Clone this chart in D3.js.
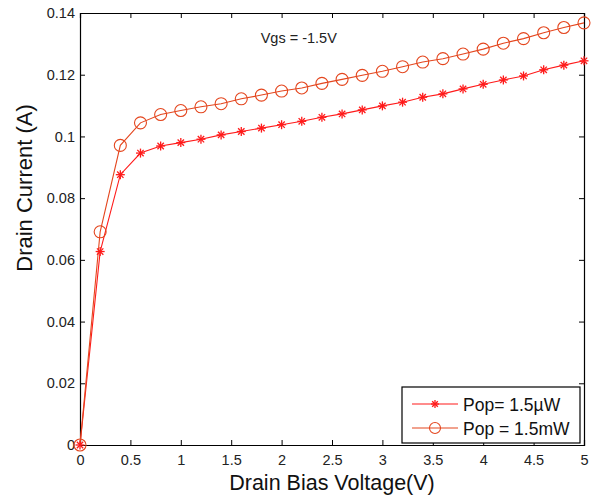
<!DOCTYPE html>
<html>
<head>
<meta charset="utf-8">
<script src="https://cdn.jsdelivr.net/npm/d3@7"></script>
<style>
  body { margin: 0; background: #fff; }
  svg { display: block; font-family: Arial, "Liberation Sans", sans-serif; }
</style>
</head>
<body>
<div id="chart"></div>
<script>
// Data
const voltage = [0, 0.2, 0.4, 0.6, 0.8, 1.0, 1.2, 1.4, 1.6, 1.8, 2.0, 2.2, 2.4, 2.6, 2.8,
                 3.0, 3.2, 3.4, 3.6, 3.8, 4.0, 4.2, 4.4, 4.6, 4.8, 5.0];
const currentMicroW = [0, 0.0627, 0.0876, 0.0946, 0.0969, 0.0980, 0.0991, 0.1005, 0.1016, 0.1027,
                       0.1038, 0.1049, 0.1062, 0.1073, 0.1086, 0.1099, 0.1111, 0.1127, 0.1138,
                       0.1154, 0.1169, 0.1183, 0.1196, 0.1216, 0.1231, 0.1245];
const currentMilliW = [0, 0.0691, 0.0971, 0.1044, 0.1071, 0.1084, 0.1096, 0.1106, 0.1122, 0.1134,
                       0.1147, 0.1157, 0.1172, 0.1185, 0.1198, 0.1211, 0.1226, 0.1241, 0.1252,
                       0.1267, 0.1283, 0.1302, 0.1317, 0.1336, 0.1353, 0.1368];
const seriesNames = ["Pop= 1.5\u00b5W", "Pop = 1.5mW"];
const xTicks = [0, 0.5, 1, 1.5, 2, 2.5, 3, 3.5, 4, 4.5, 5];
const yTicks = [0, 0.02, 0.04, 0.06, 0.08, 0.1, 0.12, 0.14];

const W = 593, H = 497;
const margin = {top: 13, right: 9, bottom: 52, left: 80};
const w = W - margin.left - margin.right;
const h = H - margin.top - margin.bottom;

const starColor = "#ff1a1a";
const circColor = "#e4461e";

const svg = d3.select("#chart").append("svg")
  .attr("width", W).attr("height", H);

const g = svg.append("g")
  .attr("transform", `translate(${margin.left},${margin.top})`);

const x = d3.scaleLinear().domain([0, 5]).range([0, w]);
const y = d3.scaleLinear().domain([0, 0.14]).range([h, 0]);

// Axes (MATLAB-style inward ticks, mirrored on top/right)
const fmt = d => d === 0 ? "0" : String(+d.toFixed(2));
g.append("g").attr("transform", `translate(0,${h})`)
  .call(d3.axisBottom(x).tickValues(xTicks).tickSize(-5).tickPadding(10).tickFormat(fmt));
g.append("g")
  .call(d3.axisLeft(y).tickValues(yTicks).tickSize(-5).tickPadding(5).tickFormat(fmt));
g.append("g")
  .call(d3.axisTop(x).tickValues(xTicks).tickSize(-5).tickFormat(""));
g.append("g").attr("transform", `translate(${w},0)`)
  .call(d3.axisRight(y).tickValues(yTicks).tickSize(-5).tickFormat(""));

g.selectAll(".domain").attr("stroke", "#000").attr("stroke-width", 1.2);
g.selectAll(".tick line").attr("stroke", "#000");
g.selectAll(".tick text").attr("font-size", "14.5px").attr("fill", "#222")
  .attr("font-family", "Arial, 'Liberation Sans', sans-serif");

// Lines
const pts = arr => voltage.map((v, i) => [v, arr[i]]);
const line = d3.line().x(d => x(d[0])).y(d => y(d[1]));

g.append("path").datum(pts(currentMicroW))
  .attr("fill", "none").attr("stroke", starColor).attr("stroke-width", 1.1).attr("d", line);
g.append("path").datum(pts(currentMilliW))
  .attr("fill", "none").attr("stroke", circColor).attr("stroke-width", 1.1).attr("d", line);

// Markers
function star(sel, cx, cy, r, color) {
  const s = sel.append("g").attr("transform", `translate(${cx},${cy})`)
    .attr("stroke", color).attr("stroke-width", 1.3);
  [0, 45, 90, 135].forEach(a => {
    const rad = a * Math.PI / 180;
    s.append("line")
      .attr("x1", -r * Math.cos(rad)).attr("y1", -r * Math.sin(rad))
      .attr("x2", r * Math.cos(rad)).attr("y2", r * Math.sin(rad));
  });
}
function circ(sel, cx, cy, r, color) {
  sel.append("circle").attr("cx", cx).attr("cy", cy).attr("r", r)
    .attr("fill", "none").attr("stroke", color).attr("stroke-width", 1.1);
}

pts(currentMicroW).forEach(d => star(g, x(d[0]), y(d[1]), 4.5, starColor));
pts(currentMilliW).forEach(d => circ(g, x(d[0]), y(d[1]), 6, circColor));

// Annotation
g.append("text")
  .attr("x", x(2.17)).attr("y", 30)
  .attr("text-anchor", "middle")
  .attr("font-size", "14.5px").attr("fill", "#222")
  .text("Vgs = -1.5V");

// Axis titles
svg.append("text")
  .attr("x", margin.left + w / 2).attr("y", 490)
  .attr("text-anchor", "middle")
  .attr("font-size", "21.5px").attr("fill", "#111")
  .text("Drain Bias Voltage(V)");

svg.append("text")
  .attr("transform", "translate(32,188) rotate(-90)")
  .attr("text-anchor", "middle")
  .attr("font-size", "22px").attr("fill", "#111")
  .text("Drain Current (A)");

// Legend
const leg = svg.append("g").attr("transform", "translate(402,387)");
leg.append("rect").attr("width", 178).attr("height", 56)
  .attr("fill", "#fff").attr("stroke", "#000").attr("stroke-width", 1.2);
[[starColor, star], [circColor, circ]].forEach(([c, mk], i) => {
  const yy = 17 + i * 24;
  leg.append("line").attr("x1", 10).attr("x2", 56).attr("y1", yy).attr("y2", yy)
    .attr("stroke", c).attr("stroke-width", 1.1);
  if (i === 0) mk(leg, 33, yy, 4, c); else mk(leg, 33, yy, 5.5, c);
  leg.append("text").attr("x", 61).attr("y", yy + 6.5)
    .attr("font-size", "17.5px").attr("fill", "#111")
    .text(seriesNames[i]);
});
</script>
</body>
</html>
